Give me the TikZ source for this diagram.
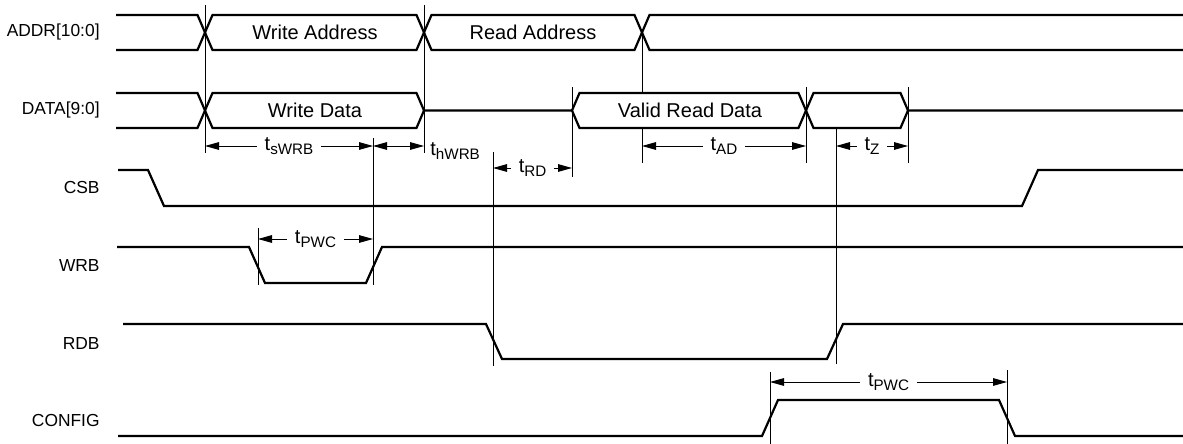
\documentclass[tikz,border=0pt]{standalone}
\usepackage{fontspec}
\setmainfont{Liberation Sans}
\usetikzlibrary{arrows.meta}

% subscript of a timing name
\newcommand\tsub[1]{\raisebox{-2.3pt}{\fontsize{7.6}{9}\selectfont #1}}

\begin{document}
\begin{tikzpicture}[x=0.5pt, y=-0.5pt,
  sig/.style={line width=1.1pt},
  tick/.style={line width=0.45pt},
  dim/.style={line width=0.45pt,
    {Triangle[length=7pt,width=3.8pt]}-{Triangle[length=7pt,width=3.8pt]}},
  sname/.style={anchor=east, inner sep=0pt, font=\fontsize{8.7}{10}\selectfont},
  btext/.style={inner sep=0pt, font=\fontsize{10}{12}\selectfont},
  tlab/.style={fill=white, inner xsep=4pt, inner ysep=1.5pt, font=\fontsize{10}{12}\selectfont}]

\useasboundingbox (0,0) rectangle (1183,444);

% Half width of a bus crossing
\def\h{7.5}
% Bus levels
\def\At{15}   \def\Ab{50}   \def\Am{32.5}
\def\Dt{93}   \def\Db{128}  \def\Dm{110.5}

% Signal names
\node[sname] (nAddr) at (100,\Am) {ADDR[10:0]};
\node[sname] (nData) at (100,\Dm) {DATA[9:0]};
\node[sname] (nCsb) at (100,188) {CSB};
\node[sname] (nWrb) at (100,266) {WRB};
\node[sname] (nRdb) at (100,344) {RDB};
\node[sname] (nCfg) at (100,421) {CONFIG};

% ADDR bus
\draw[sig] (116,\At) -- (205-\h,\At) -- (205+\h,\Ab) -- (424-\h,\Ab) -- (424+\h,\At)
  -- (642-\h,\At) -- (642+\h,\Ab) -- (1183,\Ab);
\draw[sig] (116,\Ab) -- (205-\h,\Ab) -- (205+\h,\At) -- (424-\h,\At) -- (424+\h,\Ab)
  -- (642-\h,\Ab) -- (642+\h,\At) -- (1183,\At);
\node[btext] (wAddr) at (315,\Am) {Write Address};
\node[btext] (rAddr) at (533,\Am) {Read Address};

% DATA bus
\draw[sig] (116,\Dt) -- (205-\h,\Dt) -- (205+\h,\Db) -- (424-\h,\Db) -- (424,\Dm)
  -- (572,\Dm) -- (572+\h,\Db) -- (806-\h,\Db) -- (806+\h,\Dt) -- (908-\h,\Dt)
  -- (908,\Dm) -- (1183,\Dm);
\draw[sig] (116,\Db) -- (205-\h,\Db) -- (205+\h,\Dt) -- (424-\h,\Dt) -- (424,\Dm);
\draw[sig] (572,\Dm) -- (572+\h,\Dt) -- (806-\h,\Dt) -- (806+\h,\Db) -- (908-\h,\Db)
  -- (908,\Dm);
\node[btext] (wData) at (315,\Dm) {Write Data};
\node[btext] (vData) at (690,\Dm) {Valid Read Data};

% Control lines
\draw[sig] (118,170) -- (148,170) -- (164,206) -- (1022,206) -- (1038,170) -- (1183,170);
\draw[sig] (117,247) -- (249,247) -- (265,283) -- (366,283) -- (382,247) -- (1183,247);
\draw[sig] (123,324) -- (486,324) -- (502,359) -- (827,359) -- (843,324) -- (1183,324);
\draw[sig] (118,436) -- (762,436) -- (778,400) -- (999,400) -- (1015,436) -- (1183,436);

% Reference lines
\draw[tick] (205,5) -- (205,153);
\draw[tick] (424,5) -- (424,153);
\draw[tick] (642,\Am) -- (642,\Dt);
\draw[tick] (642,\Db) -- (642,163);
\draw[tick] (572,87) -- (572,177);
\draw[tick] (806,87) -- (806,163);
\draw[tick] (908,87) -- (908,163);
\draw[tick] (373,138) -- (373,285);
\draw[tick] (258,228) -- (258,285);
\draw[tick] (493,152) -- (493,366);
\draw[tick] (836,\Db) -- (836,364);
\draw[tick] (770,372) -- (770,444);
\draw[tick] (1007,370) -- (1007,444);

% Timing
\draw[dim] (205,146) -- node[tlab] (tsw) {t\tsub{sWRB}} (373,146);
\draw[dim] (373,146) -- (424,146);
\node[anchor=west, inner sep=0pt, font=\fontsize{10}{12}\selectfont] (thw) at (430,151) {t\tsub{hWRB}};
\draw[dim] (493,168) -- node[tlab] (trd) {t\tsub{RD}} (572,168);
\draw[dim] (642,146) -- node[tlab] (tad) {t\tsub{AD}} (806,146);
\draw[dim] (836,146) -- node[tlab] (tz) {t\tsub{Z}} (908,146);
\draw[dim] (258,239) -- node[tlab] (tpw) {t\tsub{PWC}} (373,239);
\draw[dim] (770,382) -- node[tlab] (tpc) {t\tsub{PWC}} (1007,382);

\end{tikzpicture}
\end{document}
